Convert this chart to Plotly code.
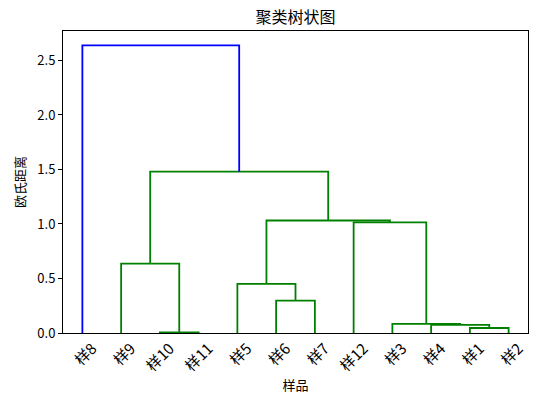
import plotly.graph_objects as go

# Leaf order along the x axis (dendrogram order)
leaf_labels = ["样8", "样9", "样10", "样11", "样5", "样6", "样7", "样12", "样3", "样4", "样1", "样2"]

# Linkage: merge i creates cluster "c{i}" from left/right children at given height
merge_left = ["样1", "样10", "样4", "样3", "样6", "样5", "样9", "样12", "c5", "c6", "样8"]
merge_right = ["样2", "样11", "c0", "c2", "样7", "c4", "c1", "c3", "c7", "c8", "c9"]
merge_height = [0.046, 0.006, 0.074, 0.083, 0.297, 0.45, 0.637, 1.014, 1.032, 1.48, 2.638]
color_threshold = 1.85

y_ticks = [0.0, 0.5, 1.0, 1.5, 2.0, 2.5]

# positions like scipy's dendrogram: leaves at 5, 15, 25, ...
pos = {name: 5 + 10 * i for i, name in enumerate(leaf_labels)}
hgt = {name: 0.0 for name in leaf_labels}

segs = {"below": ([], []), "above": ([], [])}
for i, (a, b, h) in enumerate(zip(merge_left, merge_right, merge_height)):
    xa, xb = pos[a], pos[b]
    ya, yb = hgt[a], hgt[b]
    key = "above" if h > color_threshold else "below"
    xs, ys = segs[key]
    xs += [xa, xa, xb, xb, None]
    ys += [ya, h, h, yb, None]
    pos[f"c{i}"] = (xa + xb) / 2
    hgt[f"c{i}"] = h

fig = go.Figure()
fig.add_trace(go.Scatter(x=segs["below"][0], y=segs["below"][1], mode="lines",
                         line=dict(color="#008000", width=1.8), hoverinfo="skip", showlegend=False))
fig.add_trace(go.Scatter(x=segs["above"][0], y=segs["above"][1], mode="lines",
                         line=dict(color="#0000ff", width=1.8), hoverinfo="skip", showlegend=False))

font_family = "Noto Sans CJK SC, sans-serif"
n = len(leaf_labels)
fig.update_layout(
    width=559, height=408,
    margin=dict(l=53, r=39, t=23, b=83),
    paper_bgcolor="white", plot_bgcolor="white",
    font=dict(family=font_family, color="black", size=13),
    title=dict(text="聚类树状图", x=0.5, xref="paper", xanchor="center",
               y=1, yref="paper", yanchor="bottom", pad=dict(b=8),
               font=dict(size=16, family=font_family, color="black")),
    xaxis=dict(range=[0, 10 * n], tickvals=[pos[l] for l in leaf_labels], ticktext=leaf_labels,
               tickangle=-45, ticks="", showgrid=False, zeroline=False,
               showline=True, linecolor="black", linewidth=1, mirror=True,
               tickfont=dict(size=15), ticklabelshift=10,
               title=dict(text="样品", font=dict(size=13), standoff=6)),
    yaxis=dict(range=[0, max(merge_height) * 1.05], tickvals=y_ticks, tickformat=".1f",
               ticks="outside", ticklen=4, tickcolor="black", showgrid=False, zeroline=False,
               showline=True, linecolor="black", linewidth=1, mirror=True,
               tickfont=dict(size=13),
               title=dict(text="欧氏距离", font=dict(size=13), standoff=8)),
)

fig.write_html("out.html")
